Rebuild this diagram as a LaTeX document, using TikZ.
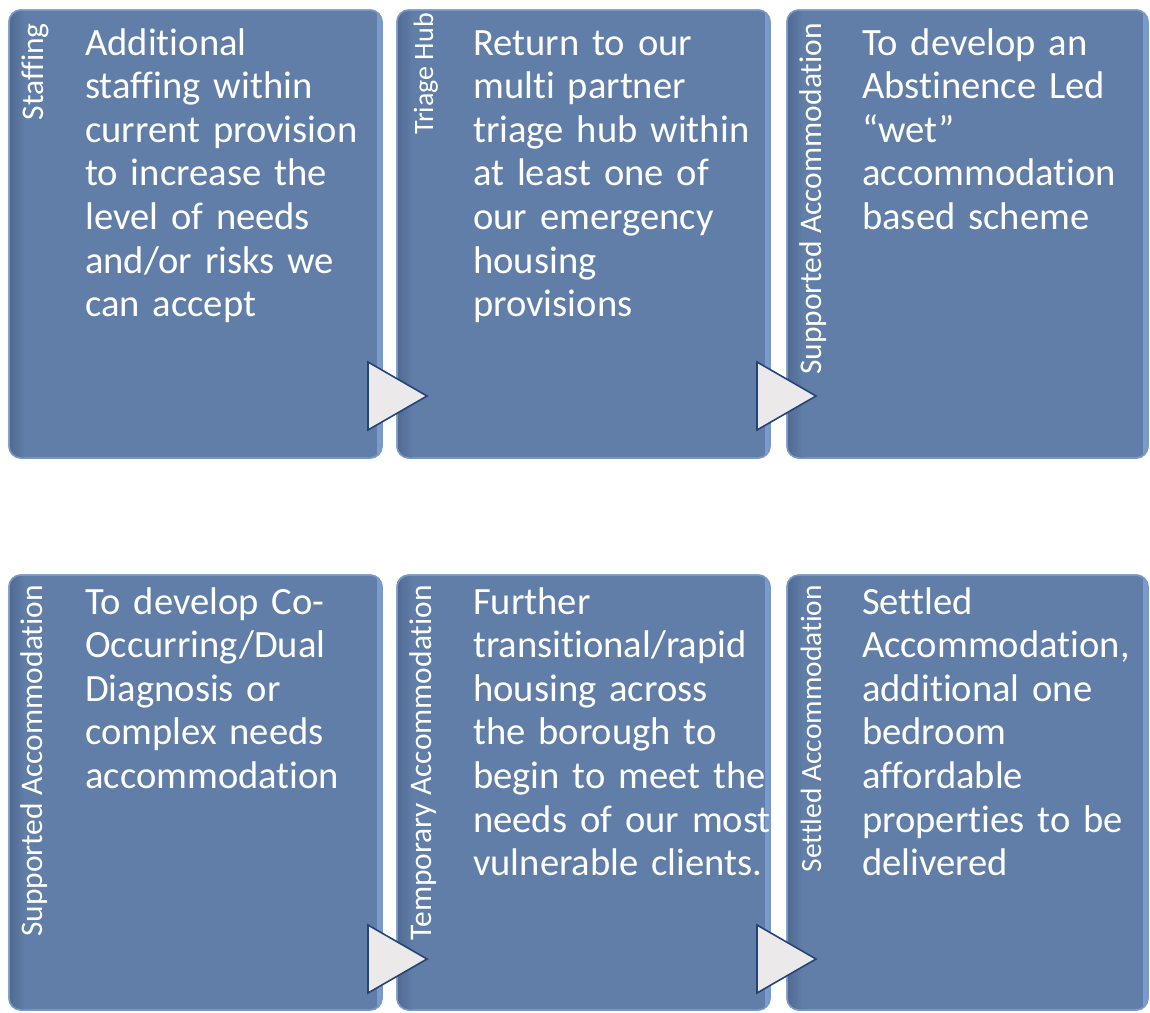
\documentclass[tikz,border=0pt]{standalone}
\usepackage{fontspec}
\setmainfont{Carlito}[Ligatures={NoCommon,NoContextual},RawFeature={-liga;-clig;-dlig}]
\definecolor{boxfill}{RGB}{96,126,168}
\definecolor{boxdark}{RGB}{80,106,146}
\definecolor{boxlight}{RGB}{122,155,204}
\definecolor{boxedge}{RGB}{120,152,198}
\definecolor{trifill}{RGB}{236,233,235}
\definecolor{triedge}{RGB}{36,68,118}
\begin{document}
\begin{tikzpicture}[x=1pt,y=1pt,
  panel/.style={draw=boxedge, line width=1.5pt, fill=boxfill, rounded corners=12pt,
    anchor=north west, inner sep=0pt, outer sep=0pt},
  toprow/.style={panel, minimum height=448pt},
  botrow/.style={panel, minimum height=435pt},
  lbl/.style={rotate=90, anchor=base east, inner sep=0pt, text=white,
    font=\fontsize{31.5}{36}\selectfont},
  txt/.style={anchor=base west, inner sep=0pt, text=white, text width=330pt,
    align=left, font=\fontsize{38.6}{43.6}\selectfont},
  arrowtri/.style={fill=trifill, draw=triedge, line width=1.6pt, line join=miter}
]
\useasboundingbox (0,0) rectangle (1150,-1012);
% top row panels
\node[toprow, minimum width=373pt] (b1) at (9,-10) {};
\node[toprow, minimum width=373pt] (b2) at (397,-10) {};
\node[toprow, minimum width=361pt] (b3) at (787,-10) {};
% bottom row panels
\node[botrow, minimum width=373pt] (b4) at (9,-575) {};
\node[botrow, minimum width=373pt] (b5) at (397,-575) {};
\node[botrow, minimum width=361pt] (b6) at (787,-575) {};
% bevel shading
\foreach \n in {b1,b2,b3,b4,b5,b6} {
  \begin{scope}
    \clip[rounded corners=12pt] (\n.north west) rectangle (\n.south east);
    \shade[left color=boxdark, right color=boxfill] (\n.north west) rectangle ([xshift=16pt]\n.south west);
    \fill[boxlight] ([xshift=-5pt]\n.north east) rectangle (\n.south east);
  \end{scope}
  \draw[rounded corners=12pt, draw=boxedge, line width=1.5pt] (\n.north west) rectangle (\n.south east);
}
% labels
\node[lbl] (l1) at (43,-23) {Staffing};
\node[lbl, font=\fontsize{28}{32}\selectfont] (l2) at (433,-13) {Triage Hub};
\node[lbl] (l3) at (821,-23) {Supported Accommodation};
\node[lbl] (l4) at (42,-585) {Supported Accommodation};
\node[lbl] (l5) at (431,-585) {Temporary Accommodation};
\node[lbl, font=\fontsize{29.4}{34}\selectfont] (l6) at (821,-585) {Settled Accommodation};
% main texts
\node[txt] (t1) at (85,-55) {Additional\\staffing within\\current provision\\to increase the\\level of needs\\and/or risks we\\can accept};
\node[txt] (t2) at (473,-55) {Return to our\\multi partner\\triage hub within\\at least one of\\our emergency\\housing\\provisions};
\node[txt] (t3) at (862,-55) {To develop an\\Abstinence Led\\“wet”\\accommodation\\based scheme};
\node[txt] (t4) at (85,-614) {To develop Co-\\Occurring/Dual\\Diagnosis or\\complex needs\\accommodation};
\node[txt] (t5) at (473,-614) {Further\\transitional/rapid\\housing across\\the borough to\\begin to meet the\\needs of our most\\vulnerable clients.};
\node[txt] (t6) at (862,-614) {Settled\\Accommodation,\\additional one\\bedroom\\affordable\\properties to be\\delivered};
% triangles
\draw[arrowtri] (368,-362) -- (427,-396) -- (368,-430) -- cycle;
\draw[arrowtri] (757,-362) -- (816,-396) -- (757,-430) -- cycle;
\draw[arrowtri] (368,-925) -- (427,-959) -- (368,-993) -- cycle;
\draw[arrowtri] (757,-925) -- (816,-959) -- (757,-993) -- cycle;
\end{tikzpicture}
\end{document}
